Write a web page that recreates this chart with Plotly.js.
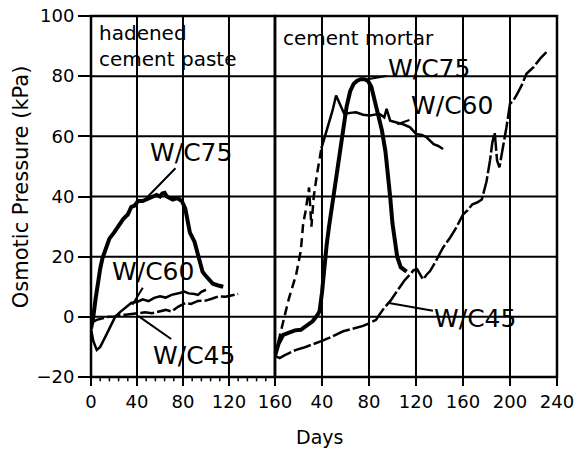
<!DOCTYPE html>
<html>
<head>
<meta charset="utf-8">
<script src="https://cdn.plot.ly/plotly-3.0.1.min.js"></script>
<style>html,body{margin:0;padding:0;background:#fff}#chart{width:587px;height:449px}</style>
</head>
<body>
<div id="chart"></div>
<script>
// ---------- Data ----------
// Hardened cement paste (left panel)
const pasteDays75 = [0, 2, 4, 6, 8, 10, 13, 16, 20, 24, 28, 32, 35, 38, 41, 45, 50, 54, 57, 60, 62, 64, 66, 68, 71, 75, 79, 82, 84, 86, 90, 93, 95, 97, 99, 102, 106, 110, 115];
const pasteWC75   = [-4, 0, 6, 12, 16, 19.5, 23, 26, 28, 30.5, 32.5, 34, 36.5, 37, 38.5, 38.5, 39.5, 40, 40.5, 40, 41, 41.2, 40, 39.5, 39, 39.5, 38.5, 36, 31, 28, 25, 21, 17.5, 15, 14, 12.5, 11, 10.5, 10];

const pasteDays60 = [0, 2, 5, 8, 12, 16, 19, 21, 25, 30, 35, 41, 45, 50, 55, 60, 65, 70, 75, 78, 81, 85, 90, 93, 96, 100];
const pasteWC60   = [-4, -8, -11, -10, -7, -4, -1.5, 0, 1.5, 3, 4.6, 5.1, 5.8, 5.2, 6.3, 6.8, 6.4, 7.3, 7.6, 8, 8.4, 7.8, 7.6, 7.3, 8.3, 9];

const pasteDays45 = [0, 5, 10, 15, 20, 24, 30, 35, 41, 47, 53, 60, 65, 70, 73, 76, 82, 87, 93, 100, 105, 111, 117, 123, 128];
const pasteWC45   = [-2, -1, -0.5, 0, 0, 0.7, 0.7, 0.9, 1.2, 1.5, 1.2, 1.8, 2.3, 1.8, 2.6, 3.4, 4.6, 4.3, 5.3, 5.4, 6, 6.8, 6.7, 7.2, 7.6];

// Cement mortar (right panel)
const mortarDays75 = [0, 3, 7, 12, 17, 22, 27, 32, 36, 38, 40, 42, 44, 46, 49, 52, 55, 58, 61, 64, 67, 70, 73, 76, 79, 82, 85, 88, 91, 94, 96, 98, 100, 102, 104, 107, 110, 112];
const mortarWC75   = [-13, -9, -6, -5.3, -4.5, -4.3, -3, -1.5, 0.5, 2, 8, 17, 24, 30, 39, 46, 54, 63, 70, 75, 77.5, 78.5, 79, 79, 78.5, 76.5, 72, 67, 62, 55, 48, 40, 31, 25, 20, 16.5, 15.5, 15];

const mortarDays60Rise = [0, 4, 8, 12, 18, 22, 24, 26, 29, 31, 33, 36, 39.5];
const mortarWC60Rise   = [-13, -6, 0, 6.3, 14, 22, 31, 35, 43, 30, 40, 48, 56];
const mortarDays60 = [39.5, 45, 49, 52, 55, 59, 64, 69, 75, 81, 86, 89, 93, 95, 98, 103, 109, 115, 120, 125, 129, 135, 139, 143];
const mortarWC60   = [56, 63, 68.6, 73.6, 70.8, 67.4, 67.8, 68, 67.2, 66.9, 67.3, 67.4, 66.3, 69.1, 65.2, 64.6, 64, 63, 60.8, 60.5, 59.7, 57.4, 56.8, 55.8];

const mortarDays45 = [0, 4, 8, 12, 18, 24, 30, 35, 40, 46, 52, 58, 64, 69, 75, 81, 86, 89, 93, 98, 102, 106, 110, 115, 118, 121, 124, 126, 129, 132, 137, 143, 149, 154, 160, 164, 168, 172, 176, 180, 183, 185, 187, 189, 191, 193, 197, 200, 203, 206, 210, 214, 220, 226, 231];
const mortarWC45   = [-13, -13.7, -12.8, -12, -11, -10.3, -9.5, -8.7, -8, -7, -6, -4.8, -4.2, -3.7, -3, -2, -1, 0.8, 3, 5.2, 7.5, 9.7, 12, 14.1, 15.5, 15.8, 14, 12.4, 14, 15.2, 18.6, 23, 26.3, 29.5, 34, 35.5, 37.4, 38, 39, 45, 52, 58, 61.3, 52, 49.7, 54, 63, 70.8, 72, 74, 77, 80.8, 83, 86, 88];

const pasteTicks  = [0, 40, 80, 120, 160];
const mortarTicks = [0, 40, 80, 120, 160, 200, 240];
const mortarTickText = ['', '40', '80', '120', '160', '200', '240'];
const pressureTicks = [-20, 0, 20, 40, 60, 80, 100];

// ---------- Traces ----------
const K = '#000';
const traces = [
  {x: pasteDays75, y: pasteWC75, xaxis: 'x', yaxis: 'y', mode: 'lines', line: {color: K, width: 4}},
  {x: pasteDays60, y: pasteWC60, xaxis: 'x', yaxis: 'y', mode: 'lines', line: {color: K, width: 2.5}},
  {x: pasteDays45, y: pasteWC45, xaxis: 'x', yaxis: 'y', mode: 'lines', line: {color: K, width: 2.5, dash: '14px,3px'}},
  {x: mortarDays75, y: mortarWC75, xaxis: 'x2', yaxis: 'y2', mode: 'lines', line: {color: K, width: 4}},
  {x: mortarDays60Rise, y: mortarWC60Rise, xaxis: 'x2', yaxis: 'y2', mode: 'lines', line: {color: K, width: 2.5, dash: '9px,5px'}},
  {x: mortarDays60, y: mortarWC60, xaxis: 'x2', yaxis: 'y2', mode: 'lines', line: {color: K, width: 2.5}},
  {x: mortarDays45, y: mortarWC45, xaxis: 'x2', yaxis: 'y2', mode: 'lines', line: {color: K, width: 2.5, dash: '18px,3px'}}
];

const FONT = 'DejaVu Sans';
function axisBase() {
  return {
    showline: false, showgrid: false, zeroline: false,
    tickmode: 'array',
    ticks: 'outside', ticklen: 8, tickwidth: 2, tickcolor: K,
    tickfont: {family: FONT, size: 18, color: K}
  };
}

// Grid lines, panel frames and minor ticks drawn from the tick arrays
const shapes = [];
function vgrid(vals, xr, yr) {
  vals.forEach(v => shapes.push({type: 'line', layer: 'below', xref: xr, yref: yr + ' domain', x0: v, x1: v, y0: 0, y1: 1, line: {color: K, width: 2}}));
}
function hgrid(vals, xr, yr) {
  vals.forEach(v => shapes.push({type: 'line', layer: 'below', xref: xr + ' domain', yref: yr, x0: 0, x1: 1, y0: v, y1: v, line: {color: K, width: 2}}));
}
vgrid(pasteTicks, 'x', 'y');
vgrid(mortarTicks, 'x2', 'y2');
hgrid(pressureTicks, 'x', 'y');
hgrid(pressureTicks, 'x2', 'y2');
[['x', 'y'], ['x2', 'y2']].forEach(([xr, yr]) => shapes.push({type: 'rect', layer: 'below', xref: xr + ' domain', yref: yr + ' domain',
  x0: 0, x1: 1, y0: 0, y1: 1, line: {color: K, width: 2.5}, fillcolor: 'rgba(0,0,0,0)'}));
// minor ticks: four subdivisions between major ticks of the paste panel
for (let i = 0; i < pasteTicks.length - 1; i++) {
  const a = pasteTicks[i], b = pasteTicks[i + 1];
  for (let k = 1; k < 5; k++) {
    const v = a + (b - a) * k / 5;
    shapes.push({type: 'line', layer: 'above', xref: 'x', yref: 'y domain', x0: v, x1: v, y0: 0, y1: -0.012, line: {color: K, width: 1.5}});
  }
}

function lbl(text, xref, yref, tx, ty, px, py) {
  return {text: text, xref: xref, yref: yref, x: px, y: py, axref: xref, ayref: yref, ax: tx, ay: ty,
    showarrow: true, arrowhead: 0, arrowwidth: 2, arrowcolor: K,
    font: {family: FONT, size: 25, color: K}};
}

const layout = {
  width: 587, height: 449,
  margin: {l: 91, r: 30, t: 16, b: 72, pad: 0},
  paper_bgcolor: '#fff', plot_bgcolor: 'rgba(0,0,0,0)',
  showlegend: false,
  font: {family: FONT, color: K},
  xaxis: Object.assign(axisBase(), {domain: [0, 0.3948], range: [0, 160], tickvals: pasteTicks, anchor: 'y'}),
  xaxis2: Object.assign(axisBase(), {domain: [0.3948, 1], range: [0, 240], tickvals: mortarTicks, ticktext: mortarTickText, anchor: 'y2'}),
  yaxis: Object.assign(axisBase(), {range: [-20, 100], tickvals: pressureTicks, anchor: 'x', ticklen: 12}),
  yaxis2: Object.assign(axisBase(), {range: [-20, 100], tickvals: pressureTicks, anchor: 'x2', showticklabels: false, ticks: ''}),
  shapes: shapes,
  annotations: [
    {text: 'Osmotic Pressure (kPa)', xref: 'paper', yref: 'paper', x: -0.150, y: 0.526, xanchor: 'center', yanchor: 'middle', textangle: -90,
      showarrow: false, font: {family: FONT, size: 21, color: K}},
    {text: 'Days', xref: 'paper', yref: 'paper', x: 0.491, y: -0.166, xanchor: 'center', yanchor: 'middle', showarrow: false,
      font: {family: FONT, size: 19, color: K}},
    {text: 'hadened<br>cement paste', xref: 'x', yref: 'y', x: 5, y: 99, xanchor: 'left', yanchor: 'top', align: 'left',
      showarrow: false, font: {family: FONT, size: 20, color: K}},
    {text: 'cement mortar', xref: 'x2', yref: 'y2', x: 5, y: 97.5, xanchor: 'left', yanchor: 'top', align: 'left',
      showarrow: false, font: {family: FONT, size: 20, color: K}},
    lbl('W/C75', 'x', 'y', 87, 54.7, 47, 39),
    lbl('W/C60', 'x', 'y', 53.5, 15, 36, 4),
    lbl('W/C45', 'x', 'y', 89.6, -12.7, 41, 0.3),
    lbl('W/C75', 'x2', 'y2', 131, 82.5, 78.7, 79),
    lbl('W/C60', 'x2', 'y2', 150.6, 70.3, 104, 64),
    lbl('W/C45', 'x2', 'y2', 170.6, -0.5, 95.7, 4.7)
  ]
};

Plotly.newPlot('chart', traces, layout, {displayModeBar: false});
</script>
</body>
</html>
